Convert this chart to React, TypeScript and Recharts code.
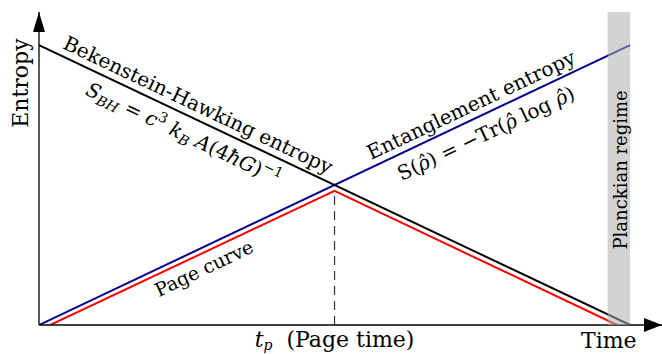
import React from 'react'
import { LineChart, Line, XAxis, YAxis, ReferenceLine, ReferenceArea, ReferenceDot } from 'recharts'

const FONT = '"DejaVu Serif", "Liberation Serif", serif'

// Bekenstein-Hawking entropy (falls), entanglement entropy (rises), Page curve
const bhTime = [0, 1]
const bhEntropy = [1, 0]
const entTime = [0, 1]
const entEntropy = [0, 1]
const pageTime = [0.019, 0.5, 0.978]
const pageEntropy = [0, 0.479, 0]

const pageTimeMark = 0.5
const pageTimePeak = 0.479
const planckStart = 0.962
const planckEnd = 1.0

// axis extents (arrow tips)
const X_MAX = 1.054
const Y_MAX = 1.118

const SLOPE_DEG = 25.35

const toRows = (ts: number[], ss: number[]) => ts.map((t, i) => ({ t, s: ss[i] }))

const bhRows = toRows(bhTime, bhEntropy)
const entRows = toRows(entTime, entEntropy)
const pageRows = toRows(pageTime, pageEntropy)

interface CaptionProps {
  cx?: number
  cy?: number
  angle: number
  dy: number
  size: number
  children: React.ReactNode
}

function Caption({ cx = 0, cy = 0, angle, dy, size, children }: CaptionProps) {
  return (
    <g transform={`translate(${cx},${cy}) rotate(${angle})`}>
      <text x={0} y={dy} textAnchor="middle" fontFamily={FONT} fontSize={size} fill="#000">
        {children}
      </text>
    </g>
  )
}

const it = (s: string) => <tspan fontStyle="italic">{s}</tspan>

function Arrow({ cx = 0, cy = 0, dir }: { cx?: number; cy?: number; dir: 'up' | 'right' }) {
  const pts =
    dir === 'up'
      ? `${cx},${cy} ${cx - 6},${cy + 20} ${cx + 6},${cy + 20}`
      : `${cx},${cy} ${cx - 18},${cy - 7} ${cx - 18},${cy + 7}`
  return <polygon points={pts} fill="#000" />
}

export default function App() {
  const dot = (x: number, y: number, render: (cx: number, cy: number) => React.ReactElement) => (
    <ReferenceDot
      x={x}
      y={y}
      r={0}
      ifOverflow="visible"
      isFront
      shape={(p: any) => render(p.cx, p.cy)}
      {...({ zIndex: 2000 } as any)}
    />
  )

  return (
    <div style={{ position: 'absolute', left: 0, top: 0, background: '#fff' }}>
      <LineChart width={662} height={354} margin={{ top: 12, right: 0, bottom: 29, left: 39 }}>
        <XAxis type="number" dataKey="t" domain={[0, X_MAX]} hide allowDataOverflow />
        <YAxis type="number" dataKey="s" domain={[0, Y_MAX]} hide allowDataOverflow />

        <ReferenceLine
          segment={[{ x: pageTimeMark, y: 0 }, { x: pageTimeMark, y: pageTimePeak }]}
          stroke="#333"
          strokeWidth={1.2}
          strokeDasharray="9 6"
        />

        <Line data={pageRows} dataKey="s" stroke="#ff0000" strokeWidth={2} dot={false} isAnimationActive={false} />
        <Line data={entRows} dataKey="s" stroke="#00008b" strokeWidth={2} dot={false} isAnimationActive={false} />
        <Line data={bhRows} dataKey="s" stroke="#000" strokeWidth={2} dot={false} isAnimationActive={false} />

        <ReferenceArea
          x1={planckStart}
          x2={planckEnd}
          y1={0}
          y2={Y_MAX}
          fill="#afafaf"
          fillOpacity={0.55}
          stroke="none"
          ifOverflow="visible"
          {...({ zIndex: 1000 } as any)}
        />

        <ReferenceLine y={0} stroke="#000" strokeWidth={1.3} />
        <ReferenceLine x={0} stroke="#000" strokeWidth={1.3} />
        {dot(X_MAX, 0, (cx, cy) => <Arrow cx={cx} cy={cy} dir="right" />)}
        {dot(0, Y_MAX, (cx, cy) => <Arrow cx={cx} cy={cy} dir="up" />)}

        {/* axis captions */}
        {dot(0, 0.864, (cx, cy) => (
          <Caption cx={cx} cy={cy} angle={-90} dy={-11} size={22}>Entropy</Caption>
        ))}
        {dot(0.964, 0, (cx, cy) => (
          <Caption cx={cx} cy={cy} angle={0} dy={23} size={22}>Time</Caption>
        ))}
        {dot(pageTimeMark, 0, (cx, cy) => (
          <Caption cx={cx} cy={cy} angle={0} dy={22} size={22}>
            {it('t')}
            <tspan fontStyle="italic" fontSize={14} dy={3}>p</tspan>
            <tspan dy={-3}>{'\u00a0 (Page time)'}</tspan>
          </Caption>
        ))}

        {/* curve annotations */}
        {dot(0.259, 0.741, (cx, cy) => (
          <Caption cx={cx} cy={cy} angle={SLOPE_DEG} dy={-7} size={20}>Bekenstein-Hawking entropy</Caption>
        ))}
        {dot(0.258, 0.742, (cx, cy) => (
          <Caption cx={cx} cy={cy} angle={SLOPE_DEG} dy={25} size={20}>
            {it('S')}
            <tspan fontStyle="italic" fontSize={14} dy={4}>BH</tspan>
            <tspan dy={-4}>{'  =  '}</tspan>
            {it('c')}
            <tspan fontSize={14} dy={-8}>3</tspan>
            <tspan fontStyle="italic" dy={8}>{' k'}</tspan>
            <tspan fontStyle="italic" fontSize={14} dy={4}>B</tspan>
            <tspan fontStyle="italic" dy={-4}>{' A'}</tspan>
            <tspan>(4</tspan>
            {it('ħG')}
            <tspan>)</tspan>
            <tspan fontSize={14} dy={-8}>−1</tspan>
          </Caption>
        ))}
        {dot(0.741, 0.741, (cx, cy) => (
          <Caption cx={cx} cy={cy} angle={-SLOPE_DEG} dy={-7} size={20}>Entanglement entropy</Caption>
        ))}
        {dot(0.743, 0.743, (cx, cy) => (
          <Caption cx={cx} cy={cy} angle={-SLOPE_DEG} dy={25} size={20}>
            <tspan>S(</tspan>
            {it('ρ̂')}
            <tspan>{')  =  −Tr('}</tspan>
            {it('ρ̂')}
            <tspan>{' log '}</tspan>
            {it('ρ̂')}
            <tspan>)</tspan>
          </Caption>
        ))}
        {dot(0.268, 0.252, (cx, cy) => (
          <Caption cx={cx} cy={cy} angle={-SLOPE_DEG} dy={22} size={19}>Page curve</Caption>
        ))}
        {dot(0.983, 0.554, (cx, cy) => (
          <Caption cx={cx} cy={cy} angle={-90} dy={7} size={18}>Planckian regime</Caption>
        ))}
      </LineChart>
    </div>
  )
}
